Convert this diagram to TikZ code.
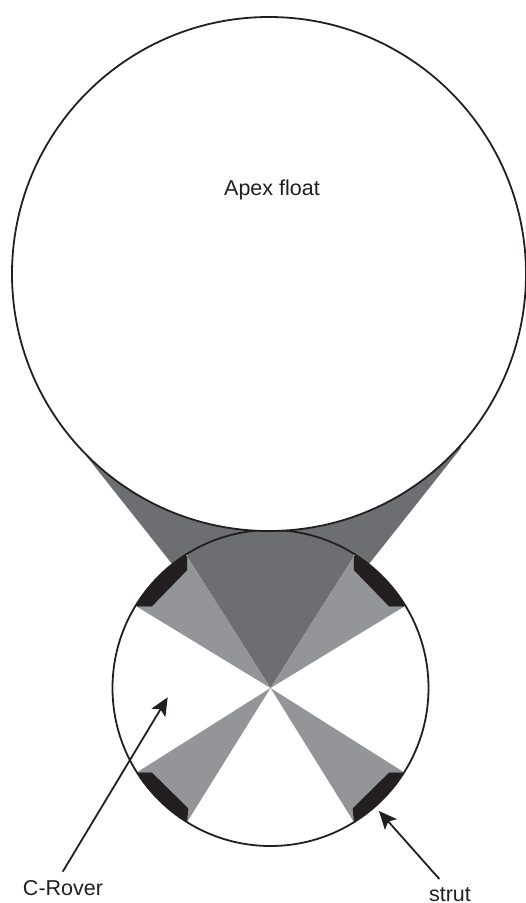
\documentclass[tikz,border=0pt]{standalone}
\usepackage{fontspec}
\setmainfont{Liberation Sans}
\usetikzlibrary{arrows.meta}
\definecolor{ink}{HTML}{231F20}
\definecolor{darkg}{HTML}{6D6E71}
\definecolor{midg}{HTML}{939598}
\tikzset{
  outline/.style={draw=ink,line width=1.8pt},
  pointer/.style={draw=ink,line width=1.8pt,-{Stealth[length=18pt,width=16pt,inset=4pt]}},
  label/.style={inner sep=0pt,anchor=base,text=ink,font=\fontsize{21.5pt}{25pt}\selectfont}
}
\begin{document}
\begin{tikzpicture}[x=1pt,y=-1pt]
\useasboundingbox (0,0) rectangle (526,903);
\coordinate (c) at (270.5,688);
% outer dark cone
\fill[darkg] (c) -- (80,448) -- (80,400) -- (461,400) -- (461,448) -- cycle;
% small circle interior
\fill[white] (c) circle[radius=158];
% inner dark wedge
\begin{scope}
\clip (c) circle[radius=158];
\fill[darkg] (c) -- (187.3,556.7) -- (187.3,500) -- (353.7,500) -- (353.7,556.7) -- cycle;
\end{scope}
% grey wedges
\fill[midg] (c) -- (137,606.7) -- (151.7,606.7) -- (187.3,570) -- (187.3,556.7) -- cycle;
\fill[midg] (c) -- (404,606.7) -- (389.3,606.7) -- (353.7,570) -- (353.7,556.7) -- cycle;
\fill[midg] (c) -- (137,772.3) -- (151.7,772.3) -- (188.3,808.3) -- (187.3,821.7) -- cycle;
\fill[midg] (c) -- (404,772.3) -- (389.3,772.3) -- (352.7,808.3) -- (353.7,821.7) -- cycle;
% struts
\begin{scope}
\clip (c) circle[radius=158];
\fill[ink] (187.3,556.7) -- (187.3,570) -- (151.7,606.7) -- (137,606.7) -- (120,590) -- (170,540) -- cycle;
\fill[ink] (353.7,556.7) -- (353.7,570) -- (389.3,606.7) -- (404,606.7) -- (421,590) -- (371,540) -- cycle;
\fill[ink] (187.3,821.7) -- (188.3,808.3) -- (151.7,772.3) -- (137,772.3) -- (120,790) -- (170,840) -- cycle;
\fill[ink] (353.7,821.7) -- (352.7,808.3) -- (389.3,772.3) -- (404,772.3) -- (421,790) -- (371,840) -- cycle;
\end{scope}
\node[circle,outline,minimum size=316pt,inner sep=0pt] (rover) at (c) {};
\node[circle,outline,fill=white,minimum size=514pt,inner sep=0pt] (float) at (269,274) {};
\node[label] (apex) at (272,195) {Apex float};
\node[label] (crover) at (63,895) {C-Rover};
\node[label] (strut) at (450,901.5) {strut};
\coordinate (cfrom) at (62.7,871.7);
\coordinate (ctip) at (167.7,697.3);
\coordinate (sfrom) at (439.3,879);
\coordinate (stip) at (379,811);
\draw[pointer] (cfrom) -- (ctip);
\draw[pointer] (sfrom) -- (stip);
\end{tikzpicture}
\end{document}
